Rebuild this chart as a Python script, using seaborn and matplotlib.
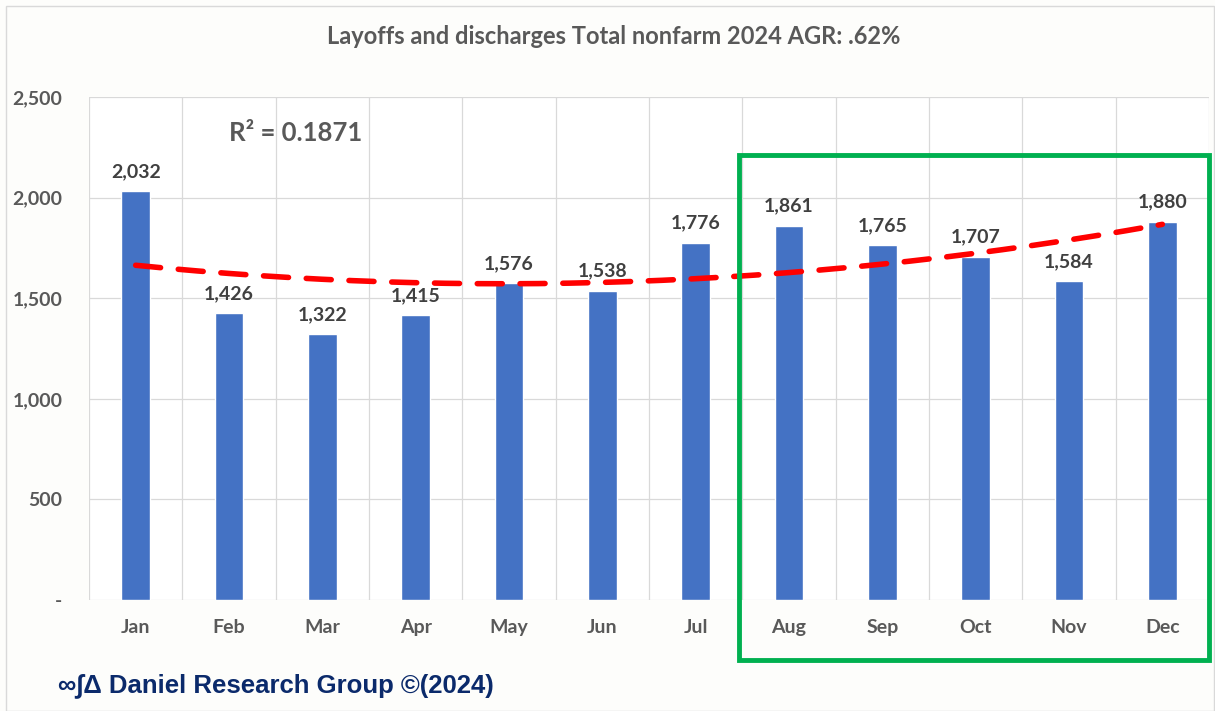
import numpy as np
import pandas as pd
import matplotlib
matplotlib.use("Agg")
import matplotlib.pyplot as plt
from matplotlib.patches import Rectangle
import seaborn as sns

# data
months = ["Jan", "Feb", "Mar", "Apr", "May", "Jun", "Jul", "Aug", "Sep", "Oct", "Nov", "Dec"]
layoffs = [2032, 1426, 1322, 1415, 1576, 1538, 1776, 1861, 1765, 1707, 1584, 1880]
y_ticks = [0, 500, 1000, 1500, 2000, 2500]
y_tick_labels = ["-", "500", "1,000", "1,500", "2,000", "2,500"]

title = "Layoffs and discharges Total nonfarm 2024 AGR: .62%"
r2_label = "R² = 0.1871"
footer = "∞∫Δ Daniel Research Group ©(2024)"

df = pd.DataFrame({"month": months, "layoffs": layoffs})

sns.set_theme(style="white")
plt.rcParams["font.family"] = ["Lato", "DejaVu Sans"]

grey = "#595959"
fig = plt.figure(figsize=(12.15, 7.11), dpi=100, facecolor="#FDFDFB")
ax = fig.add_axes([89 / 1215, 1 - 600 / 711, 1120 / 1215, 503 / 711])
ax.set_facecolor("white")

sns.barplot(data=df, x="month", y="layoffs", color="#4472C4", width=0.31,
            saturation=1, ax=ax, zorder=3)

# polynomial (order 2) trend line
xs = np.arange(len(months))
coef = np.polyfit(xs, layoffs, 2)
xt = np.linspace(0, len(months) - 1, 200)
ax.plot(xt, np.polyval(coef, xt), color="#FF0000", lw=4,
        linestyle=(0, (4.5, 3.2)), dash_capstyle="round", zorder=4)

# value labels
for i, v in enumerate(layoffs):
    ax.text(i, v + 55, f"{v:,}", ha="center", va="bottom", fontsize=14,
            fontweight="bold", color="#404040", zorder=5)

ax.set_xlim(-0.5, len(months) - 0.5)
ax.set_ylim(0, 2500)
ax.set_yticks(y_ticks)
ax.set_yticklabels(y_tick_labels)
ax.set_xlabel("")
ax.set_ylabel("")
ax.tick_params(axis="both", length=0, labelsize=14, colors=grey)
ax.tick_params(axis="y", pad=19)
ax.tick_params(axis="x", pad=14)
for lab in ax.get_xticklabels() + ax.get_yticklabels():
    lab.set_fontweight("bold")

# gridlines: horizontal at ticks, vertical between categories
for y in y_ticks:
    ax.axhline(y, color="#D9D9D9", lw=0.9, zorder=1)
for b in np.arange(-0.5, len(months), 1.0):
    ax.axvline(b, color="#D9D9D9", lw=0.9, zorder=1)
for s in ax.spines.values():
    s.set_visible(False)

ax.text(1.0, 2320, r2_label, fontsize=18.5, fontweight="bold", color=grey,
        ha="left", va="center")

fig.text(614 / 1215, 1 - 37 / 711, title, ha="center", va="center",
         fontsize=17, fontweight="bold", color=grey)

fig.text(58 / 1215, 1 - 686 / 711, footer, ha="left", va="center",
         fontsize=18.5, fontweight="bold", color="#0B2A6B",
         family=["Liberation Sans", "DejaVu Sans"])

# green highlight box around Aug-Dec
fig.patches.append(Rectangle((739 / 1215, 1 - 660 / 711), 470 / 1215, 505 / 711,
                             transform=fig.transFigure, fill=False,
                             edgecolor="#00B050", lw=3.5, zorder=10))
# thin frame round the chart
fig.patches.append(Rectangle((6 / 1215, 0), 1208 / 1215, 1 - 6 / 711,
                             transform=fig.transFigure, fill=False,
                             edgecolor="#D9D9D9", lw=1))

fig.savefig("out.png", dpi=100, facecolor=fig.get_facecolor())
